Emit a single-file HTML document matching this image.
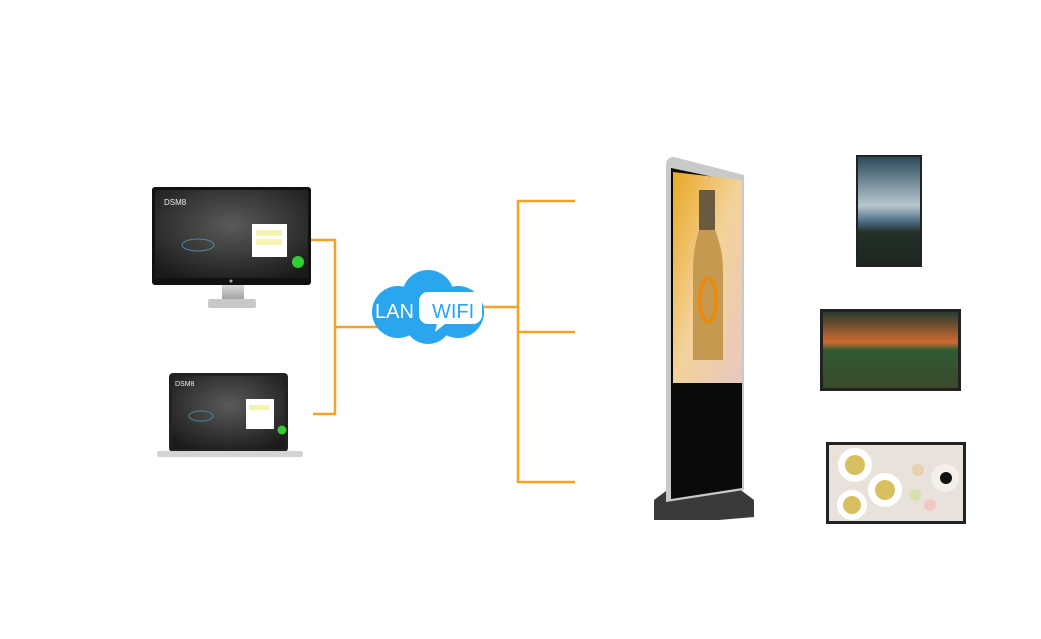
<!DOCTYPE html>
<html><head><style>
body{margin:0;width:1041px;height:639px;background:#fff;position:relative;overflow:hidden;font-family:"Liberation Sans",sans-serif}
.a{position:absolute}
</style></head><body>
<svg class="a" style="left:0;top:0" width="1041" height="639">
<defs>
<radialGradient id="scr" cx="50%" cy="40%" r="70%"><stop offset="0" stop-color="#5a5a5a"/><stop offset="1" stop-color="#1a1a1a"/></radialGradient>
<linearGradient id="gold" x1="0" y1="0" x2="1" y2="1"><stop offset="0" stop-color="#e9a825"/><stop offset="0.5" stop-color="#f3d29a"/><stop offset="1" stop-color="#e8c8c0"/></linearGradient>
<linearGradient id="sky" x1="0" y1="0" x2="0" y2="1"><stop offset="0" stop-color="#2c4a5a"/><stop offset="0.45" stop-color="#b8c8d0"/><stop offset="0.6" stop-color="#4a6a80"/><stop offset="0.7" stop-color="#223028"/><stop offset="1" stop-color="#1c2620"/></linearGradient>
<linearGradient id="lake" x1="0" y1="0" x2="0" y2="1"><stop offset="0" stop-color="#2a3a30"/><stop offset="0.4" stop-color="#d06a30"/><stop offset="0.5" stop-color="#2f5a32"/><stop offset="1" stop-color="#3a4a2a"/></linearGradient>
<linearGradient id="stand" x1="0" y1="0" x2="0" y2="1"><stop offset="0" stop-color="#ddd"/><stop offset="1" stop-color="#999"/></linearGradient>
</defs>
<!-- orange connectors -->
<g stroke="#f4a223" stroke-width="2.5" fill="none">
<path d="M311 240H335V414H313M335 327H378"/>
<path d="M482 307H518M575 201H518V482H575M518 332H575"/>
</g>
<!-- monitor -->
<rect x="222" y="284" width="22" height="18" fill="url(#stand)"/>
<rect x="208" y="299" width="48" height="9" rx="2" fill="#c8c8c8"/>
<rect x="152" y="187" width="159" height="98" rx="3" fill="#111"/>
<rect x="155" y="190" width="153" height="88" fill="url(#scr)"/>
<text x="164" y="205" font-size="8" fill="#eee">DSM8</text>
<ellipse cx="198" cy="245" rx="16" ry="6" fill="none" stroke="#4a8aa0"/>
<rect x="252" y="224" width="35" height="33" fill="#fff"/>
<rect x="256" y="230" width="26" height="6" fill="#f4f4b0"/><rect x="256" y="239" width="26" height="6" fill="#f4f4b0"/>
<circle cx="298" cy="262" r="6" fill="#3c3"/>
<circle cx="231" cy="281" r="1.5" fill="#aaa"/>
<!-- laptop -->
<rect x="169" y="373" width="119" height="79" rx="4" fill="#222"/>
<rect x="172" y="376" width="113" height="73" fill="url(#scr)"/>
<text x="175" y="386" font-size="7" fill="#eee">DSM8</text>
<ellipse cx="201" cy="416" rx="12" ry="5" fill="none" stroke="#4a8aa0"/>
<rect x="246" y="399" width="28" height="30" fill="#fff"/>
<rect x="249" y="405" width="20" height="5" fill="#f4f4b0"/>
<circle cx="282" cy="430" r="4.5" fill="#3c3"/>
<rect x="157" y="451" width="146" height="6" rx="2" fill="#d4d4d4"/>
<!-- cloud -->
<g fill="#2aa6ee">
<circle cx="398" cy="312" r="26"/><circle cx="428" cy="296" r="26"/><circle cx="458" cy="312" r="26"/><circle cx="428" cy="320" r="24"/>
</g>
<path d="M428 292h45a9 9 0 0 1 9 9v14a9 9 0 0 1-9 9h-28l-10 8 2-8h-9a9 9 0 0 1-9-9v-14a9 9 0 0 1 9-9z" fill="#fff"/>
<text x="375" y="318" font-size="20" fill="#fff">LAN</text>
<text x="432" y="318" font-size="20" fill="#2aa6ee">WIFI</text>
<!-- kiosk -->
<path d="M654 500l20-15h60l20 15v17l-35 3h-65z" fill="#3a3a3a"/>
<path d="M666 165q0-8 8-8l70 18v315l-78 12z" fill="#c9c9c9"/>
<path d="M671 168l71 15v305l-71 11z" fill="#0a0a0a"/>
<path d="M673 172l69 8v203h-69z" fill="url(#gold)"/>
<rect x="699" y="190" width="16" height="40" fill="#6a5a40"/>
<path d="M699 230q-6 20-6 40v90h30v-90q0-20-8-40z" fill="#c59a50"/>
<ellipse cx="708" cy="300" rx="8" ry="22" fill="none" stroke="#e88a10" stroke-width="4"/>
<!-- portrait -->
<rect x="856" y="155" width="66" height="112" fill="#222"/>
<rect x="858" y="157" width="62" height="108" fill="url(#sky)"/>
<!-- landscape 1 -->
<rect x="820" y="309" width="141" height="82" fill="#222"/>
<rect x="823" y="312" width="135" height="76" fill="url(#lake)"/>
<!-- landscape 2 -->
<rect x="826" y="442" width="140" height="82" fill="#222"/>
<rect x="829" y="445" width="134" height="76" fill="#e8e2da"/>
<circle cx="855" cy="465" r="17" fill="#fff"/><circle cx="855" cy="465" r="10" fill="#d8c060"/>
<circle cx="885" cy="490" r="17" fill="#fff"/><circle cx="885" cy="490" r="10" fill="#d8c060"/>
<circle cx="852" cy="505" r="15" fill="#fff"/><circle cx="852" cy="505" r="9" fill="#d8c060"/>
<circle cx="945" cy="478" r="14" fill="#f4f0e8"/><circle cx="946" cy="478" r="6" fill="#111"/>
<circle cx="918" cy="470" r="6" fill="#e8d0b0"/><circle cx="915" cy="495" r="6" fill="#d8e0b0"/><circle cx="930" cy="505" r="6" fill="#f0c8c0"/>
</svg>
</body></html>
